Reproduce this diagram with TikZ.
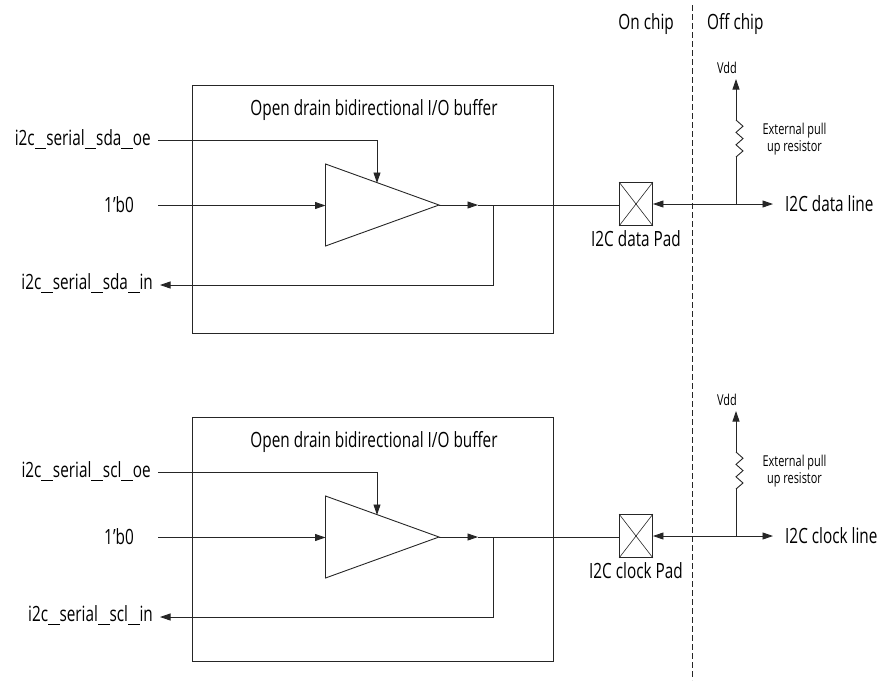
\documentclass[tikz,border=0pt]{standalone}
\usepackage{fontspec}
\setmainfont[FakeStretch=0.73]{Open Sans}
\usetikzlibrary{arrows.meta}
\newcommand{\us}{\rule[-3pt]{11.5pt}{0.9pt}}
\tikzset{
  x=1pt,y=-1pt,
  wire/.style={draw=black!85,line width=0.9pt},
  arr/.style={wire,-{Triangle[length=10.5pt,width=7pt]}},
  lab/.style={font=\fontsize{21}{23}\selectfont,inner sep=0pt,text=black},
  small/.style={font=\fontsize{15}{17}\selectfont,inner sep=0pt,align=center,text=black},
  boxst/.style={draw=black!85,line width=0.9pt,minimum width=361pt,inner sep=0pt},
  padst/.style={draw=black!85,line width=0.9pt,minimum width=33pt,minimum height=43pt,inner sep=0pt},
}
\newcommand{\iobuf}[9]{%
  \begin{scope}[yshift=-#4pt]
  \node[boxst,minimum height=#3pt] (box#1) at (372.5,#2) {};
  \node[lab] (title#1) at (374,110) {Open drain bidirectional I/O buffer};
  \node[lab,anchor=east] (oe#1) at (151,139) {#5};
  \node[lab] (zero#1) at (119,204.5) {1’b0};
  \node[lab,anchor=east] (in#1) at (153,283) {#6};
  \coordinate (oeS#1) at (158,140);
  \coordinate (zeroS#1) at (158,205.5);
  \coordinate (inE#1) at (160,285);
  \coordinate (triA#1) at (325.5,164);
  \coordinate (triB#1) at (325.5,246);
  \coordinate (triC#1) at (439,205);
  \coordinate (triG#1) at (377,183);
  \coordinate (oeC#1) at (377,140);
  \coordinate (tap#1) at (493,205);
  \coordinate (tapL#1) at (493,285);
  \coordinate (outA#1) at (478,205);
  \draw[wire,line join=miter] (triA#1) -- (triB#1) -- (triC#1) -- cycle;
  \draw[arr] (oeS#1) -- (oeC#1) -- (triG#1);
  \draw[arr] (zeroS#1) -- (zeroS#1 -| triA#1);
  \draw[arr] (triC#1) -- (outA#1);
  \node[padst] (pad#1) at (636,204) {};
  \draw[black!85,line width=0.6pt] (pad#1.north west) -- (pad#1.south east) (pad#1.north east) -- (pad#1.south west);
  \draw[wire] (outA#1) -- (pad#1.west |- outA#1);
  \draw[arr] (tap#1) -- (tapL#1) -- (inE#1);
  \node[lab] (padlab#1) at (#9,239) {#7};
  \coordinate (vt#1) at (736,204);
  \coordinate (ra#1) at (736,157);
  \coordinate (rb#1) at (736,120);
  \coordinate (vdd#1) at (736,79);
  \coordinate (le#1) at (773,204);
  \draw[arr] (vt#1) -- (le#1);
  \draw[wire,-{Triangle[length=10.5pt,width=7pt]}] (vt#1) -- (pad#1.east |- vt#1);
  \draw[wire] (vt#1) -- (ra#1);
  \draw[wire] (ra#1) -- ++(7,-6) -- ++(-7,-6.2) -- ++(7,-6.2) -- ++(-7,-6.2) -- ++(7,-6.2) -- (rb#1);
  \draw[arr] (rb#1) -- (vdd#1);
  \node[small] (vddl#1) at (727,68) {Vdd};
  \node[small] (rlab#1) at (794.5,139) {External pull\\up resistor};
  \node[lab,anchor=west] (line#1) at (785,204) {#8};
  \end{scope}
}
\begin{document}
\begin{tikzpicture}
\useasboundingbox (0,0) rectangle (884,681);
\iobuf{a}{209}{248}{0}{i2c\us serial\us sda\us oe}{i2c\us serial\us sda\us in}{I2C data Pad}{I2C data line}{636}
\iobuf{b}{207}{244}{332}{i2c\us serial\us scl\us oe}{i2c\us serial\us scl\us in}{I2C clock Pad}{I2C clock line}{636}
\node[lab,anchor=east] (on) at (674,24) {On chip};
\node[lab,anchor=west] (off) at (707,24) {Off chip};
\coordinate (dt) at (692.5,5);
\coordinate (db) at (692.5,680);
\draw[black!85,line width=0.9pt,dash pattern=on 6pt off 3pt] (dt) -- (db);
\end{tikzpicture}
\end{document}
